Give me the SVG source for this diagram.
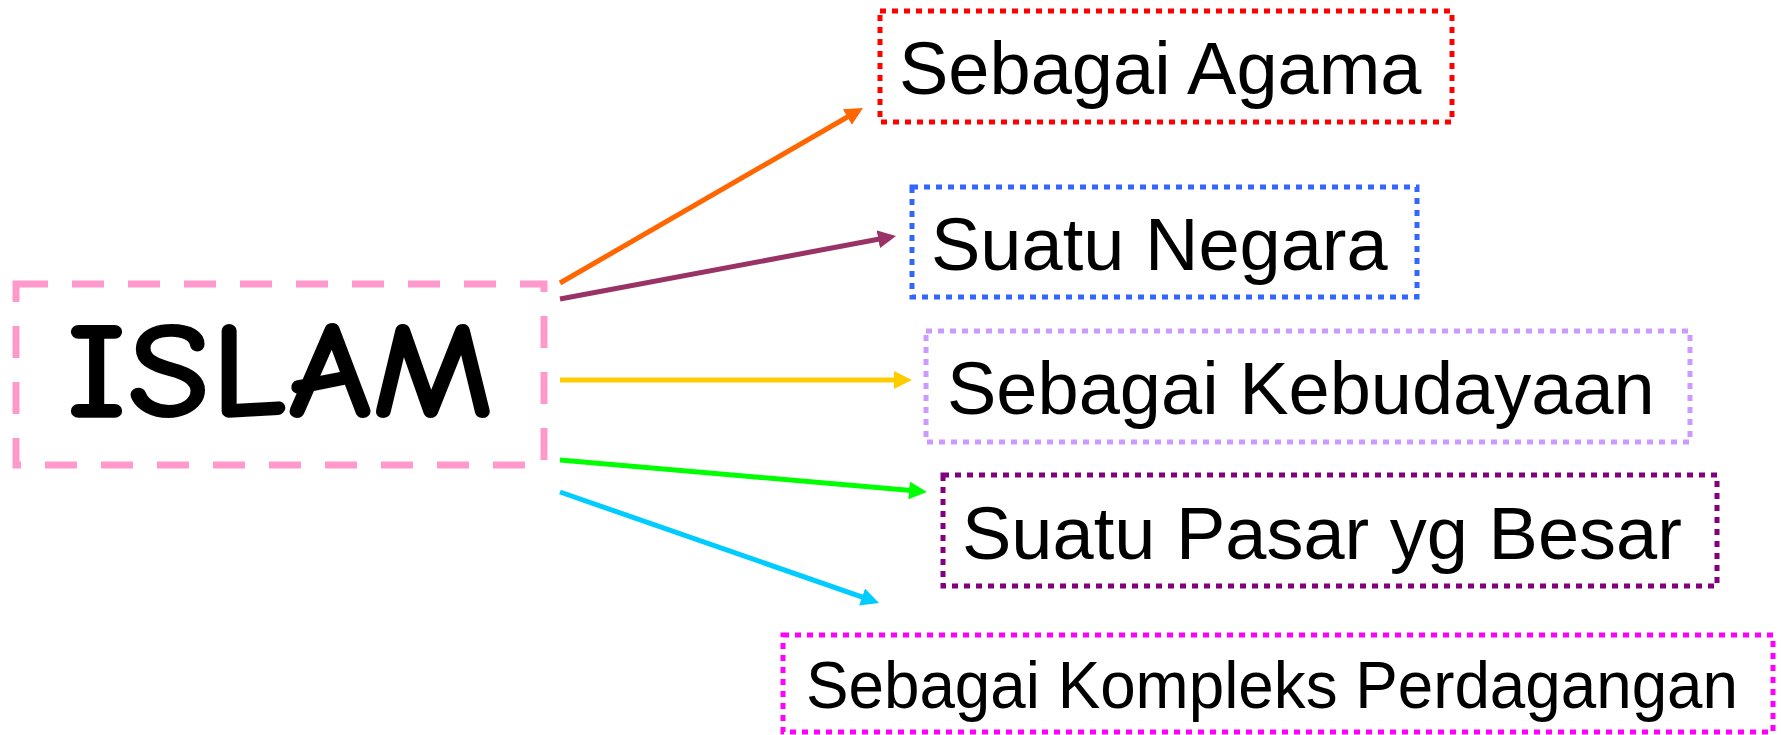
<svg xmlns="http://www.w3.org/2000/svg" width="1781" height="735" viewBox="0 0 1781 735">
<style>
.box{fill:none;stroke-width:5;stroke-dasharray:6 6}
.lbl{font-family:"Liberation Sans",Arial,sans-serif;font-size:74px;fill:#000}
.arr{fill:none;stroke-width:5}
</style>
<defs>
<marker id="mo" markerUnits="userSpaceOnUse" markerWidth="18" markerHeight="18" refX="8" refY="9" orient="auto"><path d="M0,0 L18,9 L0,18 z" fill="#FF6600"/></marker>
<marker id="mm" markerUnits="userSpaceOnUse" markerWidth="18" markerHeight="18" refX="8" refY="9" orient="auto"><path d="M0,0 L18,9 L0,18 z" fill="#993366"/></marker>
<marker id="my" markerUnits="userSpaceOnUse" markerWidth="18" markerHeight="18" refX="8" refY="9" orient="auto"><path d="M0,0 L18,9 L0,18 z" fill="#FFCC00"/></marker>
<marker id="mg" markerUnits="userSpaceOnUse" markerWidth="18" markerHeight="18" refX="8" refY="9" orient="auto"><path d="M0,0 L18,9 L0,18 z" fill="#00FF00"/></marker>
<marker id="mc" markerUnits="userSpaceOnUse" markerWidth="18" markerHeight="18" refX="8" refY="9" orient="auto"><path d="M0,0 L18,9 L0,18 z" fill="#00CCFF"/></marker>
</defs>
<rect width="1781" height="735" fill="#fff"/>
<g id="islam">
<rect x="16" y="284" width="528" height="181" fill="none" stroke="#FF99CC" stroke-width="7" stroke-dasharray="32 24"/>
<text x="66" y="417" font-family="'Comic Sans MS','Comic Neue','DejaVu Sans',sans-serif" font-size="137" font-weight="bold" textLength="428" lengthAdjust="spacingAndGlyphs" fill="#000">ISLAM</text>
</g>
<g id="agama">
<rect class="box" x="880" y="11" width="572" height="111" stroke="#FF0000"/>
<text class="lbl" x="899" y="94">Sebagai Agama</text>
</g>
<g id="negara">
<rect class="box" x="912" y="187" width="505" height="110" stroke="#3366FF"/>
<text class="lbl" x="931" y="270">Suatu Negara</text>
</g>
<g id="kebudayaan">
<rect class="box" x="926" y="331" width="764" height="111" stroke="#CC99FF"/>
<text class="lbl" x="947" y="414">Sebagai Kebudayaan</text>
</g>
<g id="pasar">
<rect class="box" x="943" y="475" width="774" height="111" stroke="#800080"/>
<text class="lbl" x="962" y="559">Suatu Pasar yg Besar</text>
</g>
<g id="kompleks">
<rect class="box" x="783" y="635" width="990" height="97" stroke="#FF00FF"/>
<text class="lbl" x="806" y="708" style="font-size:66px" textLength="932" lengthAdjust="spacingAndGlyphs">Sebagai Kompleks Perdagangan</text>
</g>
<g id="connectors">
<line class="arr" x1="560" y1="283" x2="854.3" y2="113" stroke="#FF6600" marker-end="url(#mo)"/>
<line class="arr" x1="560" y1="299" x2="886.2" y2="237.8" stroke="#993366" marker-end="url(#mm)"/>
<line class="arr" x1="560" y1="380" x2="902" y2="380" stroke="#FFCC00" marker-end="url(#my)"/>
<line class="arr" x1="560" y1="460" x2="917" y2="491.1" stroke="#00FF00" marker-end="url(#mg)"/>
<line class="arr" x1="560" y1="492" x2="869.6" y2="599.7" stroke="#00CCFF" marker-end="url(#mc)"/>
</g>
</svg>
